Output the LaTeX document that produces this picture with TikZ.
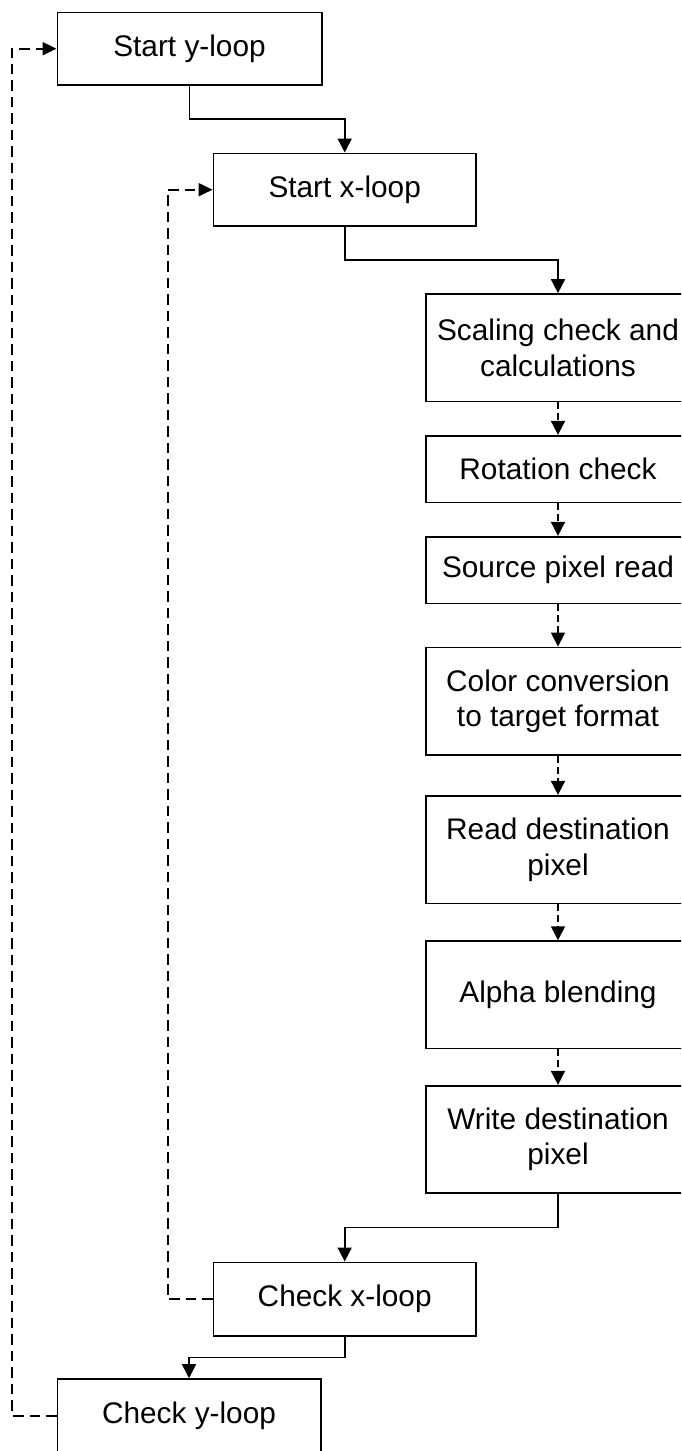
\documentclass[tikz,border=0pt]{standalone}
\usepackage{fontspec}
\setmainfont{Liberation Sans}
\usetikzlibrary{arrows.meta,calc}
\tikzset{
  block/.style={draw=black, line width=1.6pt, fill=white, inner sep=0pt,
    align=center, font=\fontsize{29.8}{35.8}\selectfont},
  flow/.style={draw=black, line width=1.7pt, -{Triangle[length=14pt,width=14pt]}},
  nextstep/.style={draw=black, line width=1.7pt, dash pattern=on 7pt off 4pt,
    -{Triangle[length=14pt,width=14pt]}},
  loopback/.style={draw=black, line width=2pt, dash pattern=on 10.5pt off 6pt,
    -{Triangle[length=14pt,width=13pt]}},
}
\begin{document}
\begin{tikzpicture}[x=1pt,y=-1pt]
  \clip (0,0) rectangle (681,1451);
  \fill[white] (0,0) rectangle (681,1451);

  % outer and inner loop heads
  \node[block, minimum width=264.4pt, minimum height=72.7pt] (sy) at (189.5,48.7) {Start y-loop};
  \node[block, minimum width=262.7pt, minimum height=72.7pt] (sx) at (344.7,189.7) {Start x-loop};

  % per-pixel pipeline
  \node[block, minimum width=264pt, minimum height=107.7pt] (sc) at (558,347.8) {Scaling check and\\calculations};
  \node[block, minimum width=264pt, minimum height=66.6pt] (rc) at (558,469) {Rotation check};
  \node[block, minimum width=264pt, minimum height=66.6pt] (sp) at (558,570) {Source pixel read};
  \node[block, minimum width=264pt, minimum height=107.7pt] (cc) at (558,701.2) {Color conversion\\to target format};
  \node[block, minimum width=264pt, minimum height=107.6pt] (rd) at (558,849.5) {Read destination\\pixel};
  \node[block, minimum width=264pt, minimum height=107.3pt] (ab) at (558,994.7) {Alpha blending};
  \node[block, minimum width=264pt, minimum height=107pt] (wd) at (558,1139.2) {Write destination\\pixel};

  % loop tails
  \node[block, minimum width=262.7pt, minimum height=73.4pt] (cx) at (344.7,1299) {Check x-loop};
  \node[block, minimum width=263.4pt, minimum height=73pt] (cy) at (189,1415.5) {Check y-loop};

  % solid elbow connectors
  \draw[flow] (sy.south) |- ($(sy.south)!.5!(sx.north)$) -| (sx.north);
  \draw[flow] (sx.south) |- ($(sx.south)!.5!(sc.north)$) -| (sc.north);
  \draw[flow] (wd.south) |- ($(wd.south)!.5!(cx.north)$) -| (cx.north);
  \draw[flow] (cx.south) |- ($(cx.south)!.5!(cy.north)$) -| (cy.north);

  % dashed steps down the pipeline
  \draw[nextstep] (sc.south) -- (rc.north);
  \draw[nextstep] (rc.south) -- (sp.north);
  \draw[nextstep] (sp.south) -- (cc.north);
  \draw[nextstep] (cc.south) -- (rd.north);
  \draw[nextstep] (rd.south) -- (ab.north);
  \draw[nextstep] (ab.south) -- (wd.north);

  % loop-back paths
  \draw[loopback] (cx.west) -- ++(-45,0) |- (sx.west);
  \draw[loopback] (cy.west) -- ++(-44.7,0) |- (sy.west);
\end{tikzpicture}
\end{document}
